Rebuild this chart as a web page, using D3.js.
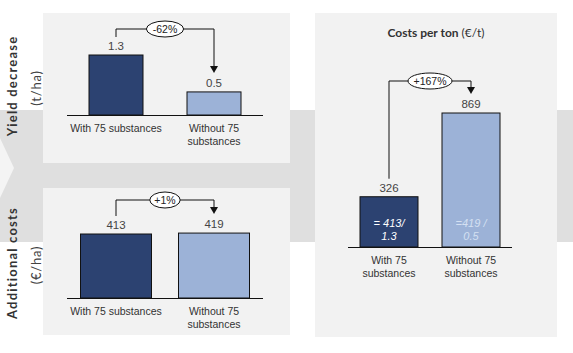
<!DOCTYPE html>
<html>
<head>
<meta charset="utf-8">
<script src="https://cdn.jsdelivr.net/npm/d3@7"></script>
<style>
  body { margin: 0; background: #fff; }
  svg text { font-family: 'Liberation Sans', Arial, sans-serif; }
</style>
</head>
<body>
<div id="chart"></div>
<script>
const categories = ['With 75 substances', 'Without 75 substances']
const yieldValues = [1.3, 0.5]
const costValues = [413, 419]
const perTonValues = [326, 869]
const changeLabels = ['-62%', '+1%', '+167%']
const formulaLabels = [['= 413/', '1.3'], ['=419 /', '0.5']]

const dark = '#2c4271'
const light = '#9cb2d7'

const svg = d3.select('#chart')
  .append('svg')
  .attr('width', 573)
  .attr('height', 353)

// background band (arrow) and panels
const bg = svg.append('g')
bg.append('rect').attr('x', 0).attr('y', 110).attr('width', 573).attr('height', 132).attr('fill', '#dfdfdf')
bg.append('path')
  .attr('d', 'M0,138 L14,168 L0,198 Z')
  .attr('fill', '#f4f4f4')
const panels = [
  { x: 43, y: 13, w: 247, h: 150 },
  { x: 43, y: 188, w: 247, h: 147 },
  { x: 315, y: 13, w: 242, h: 324 }
]
bg.selectAll('rect.panel')
  .data(panels)
  .enter()
  .append('rect')
  .attr('class', 'panel')
  .attr('x', d => d.x).attr('y', d => d.y)
  .attr('width', d => d.w).attr('height', d => d.h)
  .attr('fill', '#f2f2f2')

const drawChart = ({ values, x0, x1, base, top, max, barWidth, bracketTop, change, wrapAll, valueFmt }) => {
  const g = svg.append('g')
  const x = d3.scalePoint().domain(categories).range([x0, x1]).padding(0.5)
  const y = d3.scaleLinear().domain([0, max]).range([base, top])
  const data = categories.map((c, i) => ({ c, v: values[i], i }))

  g.selectAll('rect.bar')
    .data(data)
    .enter()
    .append('rect')
    .attr('class', 'bar')
    .attr('x', d => x(d.c) - barWidth / 2)
    .attr('y', d => y(d.v))
    .attr('width', barWidth)
    .attr('height', d => y(0) - y(d.v))
    .attr('fill', d => (d.i === 0 ? dark : light))
    .attr('stroke', '#111')
    .attr('stroke-width', 1)

  g.append('line')
    .attr('x1', x0).attr('x2', x1)
    .attr('y1', base + 0.5).attr('y2', base + 0.5)
    .attr('stroke', '#111').attr('stroke-width', 1.2)

  g.selectAll('text.val')
    .data(data)
    .enter()
    .append('text')
    .attr('class', 'val')
    .attr('x', d => x(d.c))
    .attr('y', d => y(d.v) - 5)
    .attr('text-anchor', 'middle')
    .attr('font-size', 11.5)
    .attr('fill', '#444')
    .text(d => valueFmt(d.v))

  // category labels
  data.forEach(d => {
    const lines = (wrapAll || d.i === 1) ? [d.c.replace(' substances', ''), 'substances'] : [d.c]
    const t = g.append('text')
      .attr('x', x(d.c))
      .attr('y', base + 17)
      .attr('text-anchor', 'middle')
      .attr('font-size', 10.5)
      .attr('fill', '#333')
    lines.forEach((l, j) => {
      t.append('tspan').attr('x', x(d.c)).attr('dy', j === 0 ? 0 : 13).text(l)
    })
  })

  // change bracket
  const xa = x(categories[0])
  const xb = x(categories[1])
  const ya = y(values[0]) - 18
  const yb = y(values[1]) - 19
  g.append('path')
    .attr('d', `M${xa},${ya} V${bracketTop} H${xb} V${yb - 6}`)
    .attr('fill', 'none')
    .attr('stroke', '#111')
    .attr('stroke-width', 1)
  g.append('path')
    .attr('d', `M${xb - 4},${yb - 7} L${xb + 4},${yb - 7} L${xb},${yb} Z`)
    .attr('fill', '#111')
  const mx = (xa + xb) / 2
  const rx = change.length * 3.4 + 5
  g.append('ellipse')
    .attr('cx', mx).attr('cy', bracketTop)
    .attr('rx', rx).attr('ry', 8)
    .attr('fill', '#fff').attr('stroke', '#111').attr('stroke-width', 1)
  g.append('text')
    .attr('x', mx).attr('y', bracketTop + 4)
    .attr('text-anchor', 'middle')
    .attr('font-size', 10.5)
    .attr('fill', '#222')
    .text(change)
  return { g, x, y }
}

drawChart({
  values: yieldValues, x0: 67, x1: 263, base: 115, top: 55, max: 1.3, barWidth: 54,
  bracketTop: 29, change: changeLabels[0], wrapAll: false, valueFmt: d3.format('.1f')
})
drawChart({
  values: costValues, x0: 67, x1: 263, base: 298, top: 234, max: 413, barWidth: 71,
  bracketTop: 200, change: changeLabels[1], wrapAll: false, valueFmt: d3.format('d')
})
const right = drawChart({
  values: perTonValues, x0: 348, x1: 512, base: 247, top: 113, max: 869, barWidth: 58,
  bracketTop: 81, change: changeLabels[2], wrapAll: true, valueFmt: d3.format('d')
})

// formulas inside right-hand bars
categories.forEach((c, i) => {
  const t = right.g.append('text')
    .attr('x', right.x(c))
    .attr('y', 227)
    .attr('text-anchor', 'middle')
    .attr('font-size', 11)
    .attr('font-style', 'italic')
    .attr('fill', i === 0 ? '#fff' : '#d4e0f2')
  formulaLabels[i].forEach((l, j) => {
    t.append('tspan').attr('x', right.x(c)).attr('dy', j === 0 ? 0 : 13).text(l)
  })
})

// title
const title = svg.append('text')
  .attr('x', 436).attr('y', 37)
  .attr('text-anchor', 'middle')
  .attr('font-size', 12)
  .attr('fill', '#333')
title.append('tspan').attr('font-weight', 'bold').style('font-family', 'Lato, sans-serif').text('Costs per ton ')
title.append('tspan').style('font-family', 'Lato, sans-serif').text('(€/t)')

// row labels
const rowLabels = [
  { main: 'Yield decrease', unit: '(t/ha)', cy: 86 },
  { main: 'Additional costs', unit: '(€/ha)', cy: 263 }
]
rowLabels.forEach(r => {
  svg.append('text')
    .attr('transform', `translate(17,${r.cy}) rotate(-90)`)
    .attr('text-anchor', 'middle')
    .attr('font-size', 13)
    .attr('font-weight', 'bold')
    .attr('letter-spacing', 1.2)
    .attr('fill', '#333')
    .style('font-family', 'Lato, sans-serif')
    .text(r.main)
  svg.append('text')
    .attr('transform', `translate(41,${r.cy + 2}) rotate(-90)`)
    .attr('text-anchor', 'middle')
    .attr('font-size', 13)
    .attr('letter-spacing', 0.8)
    .attr('fill', '#444')
    .style('font-family', 'Lato, sans-serif')
    .text(r.unit)
})
</script>
</body>
</html>
